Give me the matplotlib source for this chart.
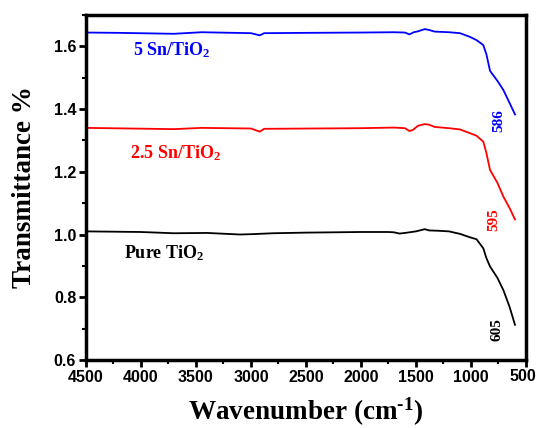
import matplotlib
matplotlib.use("Agg")
import matplotlib.pyplot as plt
from matplotlib.ticker import MultipleLocator

plt.rcParams['mathtext.fontset'] = 'custom'
plt.rcParams['mathtext.rm'] = 'Liberation Serif:bold'
plt.rcParams['mathtext.it'] = 'Liberation Serif:bold'
plt.rcParams['mathtext.bf'] = 'Liberation Serif:bold'
plt.rcParams['mathtext.default'] = 'rm'

# Data (wavenumber in cm^-1, transmittance)
wn_blue = [4500, 4200, 3700, 3450, 3000, 2920, 2880, 2500, 2000, 1700, 1600, 1560, 1520, 1480,
           1420, 1380, 1330, 1200, 1100, 1009, 950, 888, 860, 827, 760, 706, 650, 600]
t_blue = [1.644, 1.643, 1.640, 1.645, 1.642, 1.635, 1.642, 1.643, 1.644, 1.645, 1.644, 1.638, 1.645, 1.648,
          1.655, 1.652, 1.647, 1.645, 1.642, 1.630, 1.620, 1.604, 1.575, 1.522, 1.490, 1.461, 1.420, 1.383]

wn_red = [4500, 3700, 3450, 3000, 2920, 2880, 2000, 1700, 1600, 1560, 1530, 1480, 1420, 1380,
          1330, 1200, 1100, 1009, 950, 888, 860, 827, 760, 706, 650, 600]
t_red = [1.340, 1.336, 1.340, 1.338, 1.328, 1.337, 1.339, 1.341, 1.339, 1.330, 1.333, 1.347, 1.352, 1.350,
         1.343, 1.339, 1.335, 1.323, 1.315, 1.296, 1.260, 1.206, 1.165, 1.121, 1.085, 1.048]

wn_black = [4500, 4000, 3700, 3400, 3100, 3000, 2800, 2500, 2000, 1750, 1700, 1650, 1600, 1500,
            1420, 1380, 1300, 1200, 1100, 1009, 950, 888, 860, 827, 760, 706, 650, 600]
t_black = [1.010, 1.008, 1.004, 1.005, 1.000, 1.001, 1.004, 1.006, 1.008, 1.008, 1.007, 1.003, 1.005, 1.010,
           1.017, 1.013, 1.012, 1.010, 1.002, 0.991, 0.985, 0.956, 0.925, 0.898, 0.862, 0.823, 0.770, 0.712]

series_labels = ["5 Sn/TiO$_2$", "2.5 Sn/TiO$_2$", "Pure TiO$_2$"]
peak_labels = ["586", "595", "605"]
x_ticks = [4500, 4000, 3500, 3000, 2500, 2000, 1500, 1000, 500]
y_ticks = [0.6, 0.8, 1.0, 1.2, 1.4, 1.6]

fig = plt.figure(figsize=(5.37, 4.28), dpi=100)
ax = fig.add_axes([0.160, 0.159, 0.8195, 0.806])

ax.plot(wn_blue, t_blue, color='#0000ff', lw=1.3)
ax.plot(wn_red, t_red, color='#ff0000', lw=1.3)
ax.plot(wn_black, t_black, color='black', lw=1.3)

ax.set_xlim(4500, 500)
ax.set_ylim(0.6, 1.7)
ax.set_xticks(x_ticks)
ax.set_yticks(y_ticks)
ax.xaxis.set_minor_locator(MultipleLocator(250))
ax.yaxis.set_minor_locator(MultipleLocator(0.1))
# last x tick label is drawn separately so it stays inside the canvas
ax.set_xticklabels([str(v) for v in x_ticks[:-1]] + [""])
ax.set_yticklabels([f"{v:.1f}" for v in y_ticks])

tick_font = dict(fontfamily='Liberation Sans', fontweight='bold', fontsize=11.5)
for lab in ax.get_xticklabels() + ax.get_yticklabels():
    lab.set_fontfamily(tick_font['fontfamily'])
    lab.set_fontweight(tick_font['fontweight'])
    lab.set_fontsize(tick_font['fontsize'])

ax.text(0.999, -0.022, str(x_ticks[-1]), transform=ax.transAxes, ha='left', va='top',
        **tick_font).set_transform(
    ax.get_xaxis_transform())
fig.text(0.999, ax.get_position().y0 - 9 / 428, str(x_ticks[-1]), ha='right', va='top', **tick_font)
ax.texts[-1].remove()

ax.tick_params(which='major', direction='out', length=5, width=2, pad=2)
ax.tick_params(which='minor', direction='out', length=3, width=1.5)
ax.tick_params(top=False, right=False)
for s in ax.spines.values():
    s.set_linewidth(2.5)

ax.set_xlabel("Wavenumber (cm$^{\u2010 1}$)", fontfamily='Liberation Serif', fontweight='bold',
              fontsize=19.5, labelpad=8)
ax.set_ylabel("Transmittance %", fontfamily='Liberation Serif', fontweight='bold',
              fontsize=19.5, labelpad=12)

tkw = dict(fontfamily='Liberation Serif', fontweight='bold', fontsize=13)
ax.text(4073, 1.573, series_labels[0], color='#0000ff', ha='left', va='baseline', **tkw)
ax.text(4100, 1.244, series_labels[1], color='#ff0000', ha='left', va='baseline', **tkw)
ax.text(4155, 0.925, series_labels[2], color='black', ha='left', va='baseline', **tkw)

nkw = dict(fontfamily='Liberation Serif', fontweight='bold', fontsize=11, rotation=90,
           ha='center', va='center')
ax.text(745, 1.362, peak_labels[0], color='#0000ff', **nkw)
ax.text(791, 1.046, peak_labels[1], color='#ff0000', **nkw)
ax.text(764, 0.696, peak_labels[2], color='black', **nkw)

fig.savefig("out.png", dpi=100)
